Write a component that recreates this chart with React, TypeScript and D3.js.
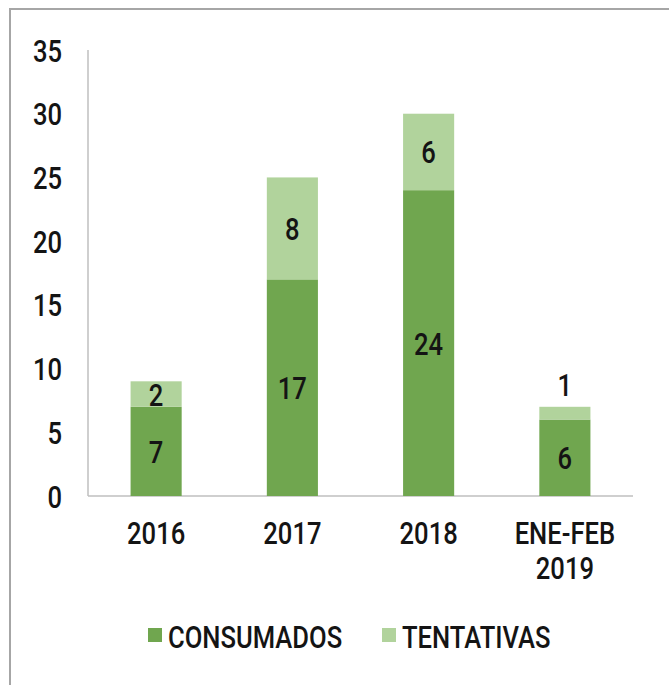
import React, { useEffect, useRef } from "react";
import * as d3 from "d3";

const categories = ["2016", "2017", "2018", "ENE-FEB 2019"];
const consumados = [7, 17, 24, 6];
const tentativas = [2, 8, 6, 1];
const seriesNames = ["CONSUMADOS", "TENTATIVAS"];
const seriesColors = ["#70a64f", "#b1d39c"];
const yTicks = [0, 5, 10, 15, 20, 25, 30, 35];

const W = 669;
const H = 685;
const FONT = "Roboto, 'DejaVu Sans', sans-serif";
const SQUEEZE = 0.8; // narrow the glyphs to look like the condensed original

export default function App() {
  const svgRef = useRef<SVGSVGElement>(null);

  useEffect(() => {
    const svg = d3.select(svgRef.current);
    svg.selectAll("*").remove();

    // condensed text helper
    const label = (
      parent: any,
      tx: number,
      ty: number,
      txt: string | number,
      anchor = "middle"
    ) =>
      parent
        .append("text")
        .attr("transform", `translate(${tx},${ty}) scale(${SQUEEZE},1)`)
        .attr("dy", "0.36em")
        .attr("text-anchor", anchor)
        .style("font-family", FONT)
        .style("font-size", "32px")
        .style("font-weight", 500)
        .attr("fill", "#141414")
        .text(txt);

    // outer frame (only top and left edges fall inside the picture)
    svg
      .append("rect")
      .attr("x", 10)
      .attr("y", 9)
      .attr("width", W + 20)
      .attr("height", H + 20)
      .attr("fill", "#fff")
      .attr("stroke", "#a6a6a6")
      .attr("stroke-width", 2);

    const left = 88;
    const right = 633;
    const top = 50;
    const bottom = 496;

    const x = d3
      .scaleBand<string>()
      .domain(categories)
      .range([left, right])
      .paddingInner(0.625)
      .paddingOuter(0.3125);

    const y = d3.scaleLinear().domain([0, 35]).range([bottom, top]);

    const data = categories.map((c, i) => ({
      cat: c,
      CONSUMADOS: consumados[i],
      TENTATIVAS: tentativas[i],
    }));
    const stacked = d3.stack<any>().keys(seriesNames)(data);

    // axes lines
    svg
      .append("line")
      .attr("x1", left)
      .attr("x2", left)
      .attr("y1", y(35))
      .attr("y2", bottom)
      .attr("stroke", "#bfbfbf")
      .attr("stroke-width", 1.5);
    svg
      .append("line")
      .attr("x1", left)
      .attr("x2", right)
      .attr("y1", bottom)
      .attr("y2", bottom)
      .attr("stroke", "#bfbfbf")
      .attr("stroke-width", 1.5);

    // y tick labels
    const yg = svg.append("g");
    yTicks.forEach((t) => label(yg, 62, y(t), t, "end"));

    // bars + value labels
    stacked.forEach((layer, li) => {
      const g = svg.append("g");
      g.selectAll("rect")
        .data(layer)
        .enter()
        .append("rect")
        .attr("x", (d: any) => x(d.data.cat)!)
        .attr("width", x.bandwidth())
        .attr("y", (d) => y(d[1]))
        .attr("height", (d) => y(d[0]) - y(d[1]))
        .attr("fill", seriesColors[li]);

      layer.forEach((d: any) => {
        const h = y(d[0]) - y(d[1]);
        const cy = h < 20 ? y(d[1]) - 22 : (y(d[0]) + y(d[1])) / 2;
        label(g, x(d.data.cat)! + x.bandwidth() / 2, cy, d[1] - d[0]);
      });
    });

    // x labels
    const xl = svg.append("g");
    categories.forEach((c) => {
      c.split(" ").forEach((p, pi) => {
        label(xl, x(c)! + x.bandwidth() / 2, 532 + pi * 35, p);
      });
    });

    // legend
    const legendX = [148, 382];
    seriesNames.forEach((name, i) => {
      svg
        .append("rect")
        .attr("x", legendX[i])
        .attr("y", 628)
        .attr("width", 14)
        .attr("height", 14)
        .attr("fill", seriesColors[i]);
      label(svg, legendX[i] + 20, 636, name, "start");
    });
  }, []);

  return (
    <svg
      ref={svgRef}
      width={W}
      height={H}
      style={{ position: "absolute", left: 0, top: 0, background: "#fff" }}
    />
  );
}
